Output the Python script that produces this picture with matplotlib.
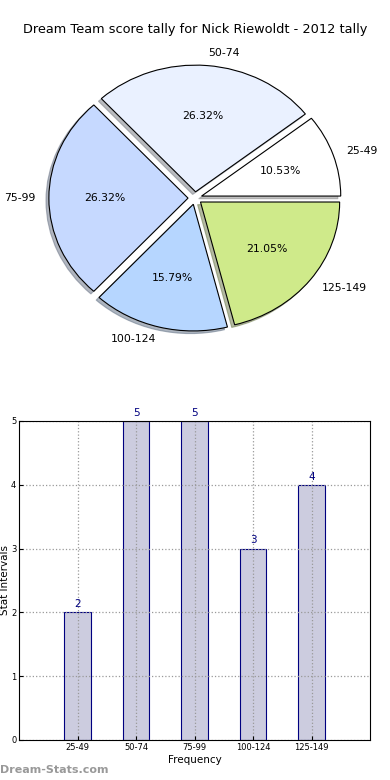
from matplotlib import pyplot as plt

# data
intervals = ["25-49", "50-74", "75-99", "100-124", "125-149"]
counts = [2, 5, 5, 3, 4]
pie_colors = ["#ffffff", "#eaf1ff", "#c6d9ff", "#b6d6ff", "#cfea8a"]
title = "Dream Team score tally for Nick Riewoldt - 2012 tally"

fig = plt.figure(figsize=(3.9, 7.8), dpi=100)
fig.text(0.5, 0.962, title, ha="center", va="center", fontsize=9.3)

# pie
ax1 = fig.add_axes([0.054, 0.543, 0.892, 0.406])
wedges, texts, autotexts = ax1.pie(counts, labels=intervals, colors=pie_colors,
                                   explode=[0.05] * len(counts), autopct="%1.2f%%",
                                   shadow={"ox": -0.015, "oy": -0.015, "shade": 0.5},
                                   startangle=0,
                                   wedgeprops=dict(edgecolor="black", linewidth=0.8),
                                   textprops=dict(fontsize=7.8))
ax1.set_aspect("auto")
ax1.set_xlim(-1.25, 1.25)
ax1.set_ylim(-1.25, 1.25)

# bars
ax2 = fig.add_axes([0.049, 0.0513, 0.9, 0.409])
xs = range(len(counts))
ax2.bar(xs, counts, width=0.45, color="#ccccdf", edgecolor="#000080", linewidth=0.8, zorder=2)
for x, c in zip(xs, counts):
    ax2.text(x, c + 0.05, str(c), ha="center", va="bottom", color="#000080", fontsize=7.5)
ax2.set_xlim(-1, 5)
ax2.set_ylim(0, 5)
ax2.set_xticks(list(xs))
ax2.set_xticklabels(intervals, fontsize=6)
ax2.set_yticks(range(6))
ax2.tick_params(axis="y", labelsize=6, direction="in", length=3, pad=2)
ax2.tick_params(axis="x", direction="in", length=3, pad=2)
ax2.grid(True, linestyle=":", color="#999999", linewidth=0.9, zorder=3)
ax2.set_axisbelow(False)
for sp in ax2.spines.values():
    sp.set_zorder(5)
ax2.set_xlabel("Frequency", fontsize=7.5, labelpad=2)
ax2.set_ylabel("Stat Intervals", fontsize=7.5, labelpad=1)

fig.text(0.0, 0.013, "Dream-Stats.com", color="#999999", fontsize=8, fontweight="bold",
         ha="left", va="center")

plt.savefig("out.png", dpi=100)
